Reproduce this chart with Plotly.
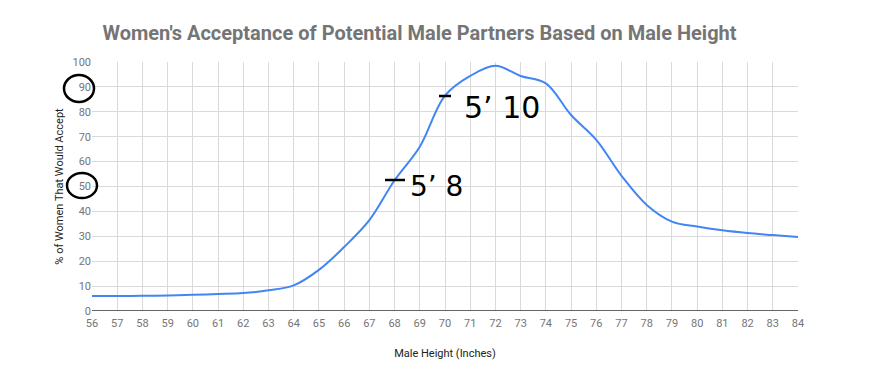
import plotly.graph_objects as go

heights = list(range(56, 85))
acceptance = [6.0, 6.0, 6.1, 6.2, 6.5, 6.8, 7.2, 8.3, 10.3, 16.5, 25.7, 36.5, 52.5, 66.0,
              86.5, 94.4, 98.5, 94.4, 91.4, 78.7, 68.7, 54.3, 42.6, 35.9, 33.9, 32.4, 31.3, 30.5, 29.7]
y_ticks = list(range(0, 101, 10))

title_text = "Women's Acceptance of Potential Male Partners Based on Male Height"
x_title = "Male Height (Inches)"
y_title = "% of Women That Would Accept"
mark_labels = ["5\u2019 10", "5\u2019 8"]

OFF = 8  # page body margin
W, H = 892, 376
L, T = 92 - OFF, 62 - OFF
PW, PH = 706, 249
R, B = W - L - PW, H - T - PH

def px(xp):
    return (xp - OFF - L) / PW

def py(yp):
    return (T + PH - (yp - OFF)) / PH

fig = go.Figure()
fig.add_trace(go.Scatter(x=heights, y=acceptance, mode="lines",
                         line=dict(color="#4285F4", width=2, shape="spline", smoothing=1.0),
                         hoverinfo="x+y"))

fig.update_layout(
    width=W, height=H,
    margin=dict(l=L, r=R, t=T, b=B, autoexpand=False),
    paper_bgcolor="white", plot_bgcolor="white",
    showlegend=False,
    font=dict(family="Roboto", color="#757575", size=11),
    title=dict(text="<b>" + title_text + "</b>", x=(419.5 - OFF) / W, xanchor="center",
               y=1 - (33 - OFF) / H, yanchor="middle",
               font=dict(family="Roboto", size=20, color="#757575")),
    xaxis=dict(range=[56, 84], tickmode="array", tickvals=heights,
               ticktext=[str(h) for h in heights],
               showgrid=True, gridcolor="#dadada", gridwidth=1,
               zeroline=False, showline=False, ticks="", automargin=False,
               ticklabelstandoff=4,
               tickfont=dict(size=11, color="#757575"),
               title=dict(text=x_title, font=dict(size=11, color="#222222"), standoff=20)),
    yaxis=dict(range=[0, 100], tickmode="array", tickvals=y_ticks,
               showgrid=True, gridcolor="#dadada", gridwidth=1,
               zeroline=False, showline=False, ticks="", automargin=False,
               tickfont=dict(size=11, color="#757575"),
               title=dict(text=y_title, font=dict(size=11, color="#222222"), standoff=6)),
)

# baseline
fig.add_shape(type="line", xref="paper", yref="y", x0=0, x1=1, y0=0, y1=0,
              line=dict(color="#333333", width=1.5))

# hand-drawn circles around 90 and 50 tick labels
fig.add_shape(type="circle", xref="paper", yref="paper",
              x0=px(64), x1=px(94), y0=py(102), y1=py(75),
              line=dict(color="black", width=2.5))
fig.add_shape(type="circle", xref="paper", yref="paper",
              x0=px(67), x1=px(97), y0=py(198), y1=py(173),
              line=dict(color="black", width=2.5))

# hand-drawn dashes
fig.add_shape(type="line", xref="paper", yref="paper",
              x0=px(439), x1=px(451), y0=py(96), y1=py(96),
              line=dict(color="black", width=2.5))
fig.add_shape(type="line", xref="paper", yref="paper",
              x0=px(385), x1=px(405), y0=py(180), y1=py(180),
              line=dict(color="black", width=2.5))

# hand-written marks
fig.add_annotation(x=px(462), y=py(107), xref="paper", yref="paper", text=mark_labels[0],
                   showarrow=False, xanchor="left", yanchor="middle",
                   font=dict(family="DejaVu Sans", size=30, color="black"))
fig.add_annotation(x=px(408), y=py(186), xref="paper", yref="paper", text=mark_labels[1],
                   showarrow=False, xanchor="left", yanchor="middle",
                   font=dict(family="DejaVu Sans", size=28, color="black"))

fig.write_html("out.html")
